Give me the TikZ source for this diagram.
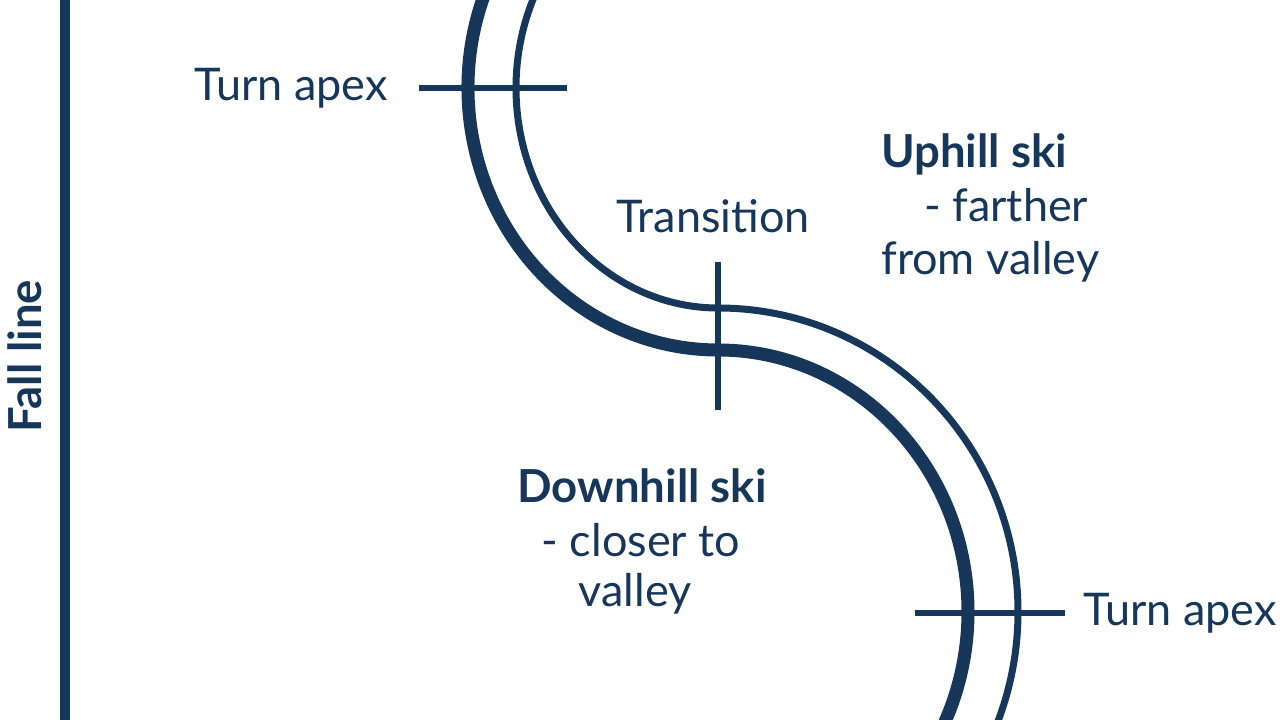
\documentclass[tikz,border=0pt]{standalone}
\usepackage{fontspec}
\setmainfont{Lato}
\definecolor{navy}{RGB}{22,54,90}
\begin{document}
\begin{tikzpicture}[x=1pt,y=1pt,
  ski/.style={draw=navy,line cap=butt},
  downski/.style={ski,line width=13pt},
  upski/.style={ski,line width=7pt},
  tick/.style={draw=navy,line width=6pt},
  lbl/.style={text=navy,inner sep=0pt,font=\fontsize{45}{54}\selectfont},
  blbl/.style={lbl,font=\fontsize{45.5}{54}\selectfont\bfseries}]
\useasboundingbox (0,0) rectangle (1280,720);
\clip (0,0) rectangle (1280,720);
% centres of the two turns
\coordinate (C1) at (718,632);
\coordinate (C2) at (718,108);
% fall line
\coordinate (F1) at (65,-10);
\coordinate (F2) at (65,730);
\draw[navy,line width=10pt] (F1) -- (F2);
\node[blbl,rotate=90] (fall) at (25,364) {Fall line};
% downhill ski (thick)
\draw[downski] ([shift={(150:250 and 262)}]C1) arc[start angle=150,end angle=270,x radius=250,y radius=262]
  arc[start angle=90,end angle=-35,x radius=250,y radius=262];
% uphill ski (thin)
\draw[upski] ([shift={(140:202 and 220)}]C1) arc[start angle=140,end angle=270,x radius=202,y radius=220]
  arc[start angle=90,end angle=-30,x radius=300,y radius=304];
% ticks
\coordinate (T1a) at (419,632);
\coordinate (T1b) at (567,632);
\draw[tick] (T1a) -- (T1b);
\coordinate (T2a) at (718,458);
\coordinate (T2b) at (718,310);
\draw[tick] (T2a) -- (T2b);
\coordinate (T3a) at (915,107);
\coordinate (T3b) at (1065,107);
\draw[tick] (T3a) -- (T3b);
% labels
\node[lbl,anchor=base east] (apex1) at (388,619) {Turn apex};
\node[lbl,anchor=base east] (apex2) at (1277,94) {Turn apex};
\node[lbl,anchor=base] (trans) at (713,487) {Transition};
\node[blbl,anchor=base west] (up1) at (881,552) {Uphill ski};
\node[lbl,anchor=base west] (up2) at (924,498) {- farther};
\node[lbl,anchor=base west] (up3) at (881,445) {from valley};
\node[blbl,anchor=base] (dn1) at (642,217) {Downhill ski};
\node[lbl,anchor=base] (dn2) at (641,163) {- closer to};
\node[lbl,anchor=base] (dn3) at (635,113) {valley};
\end{tikzpicture}
\end{document}
